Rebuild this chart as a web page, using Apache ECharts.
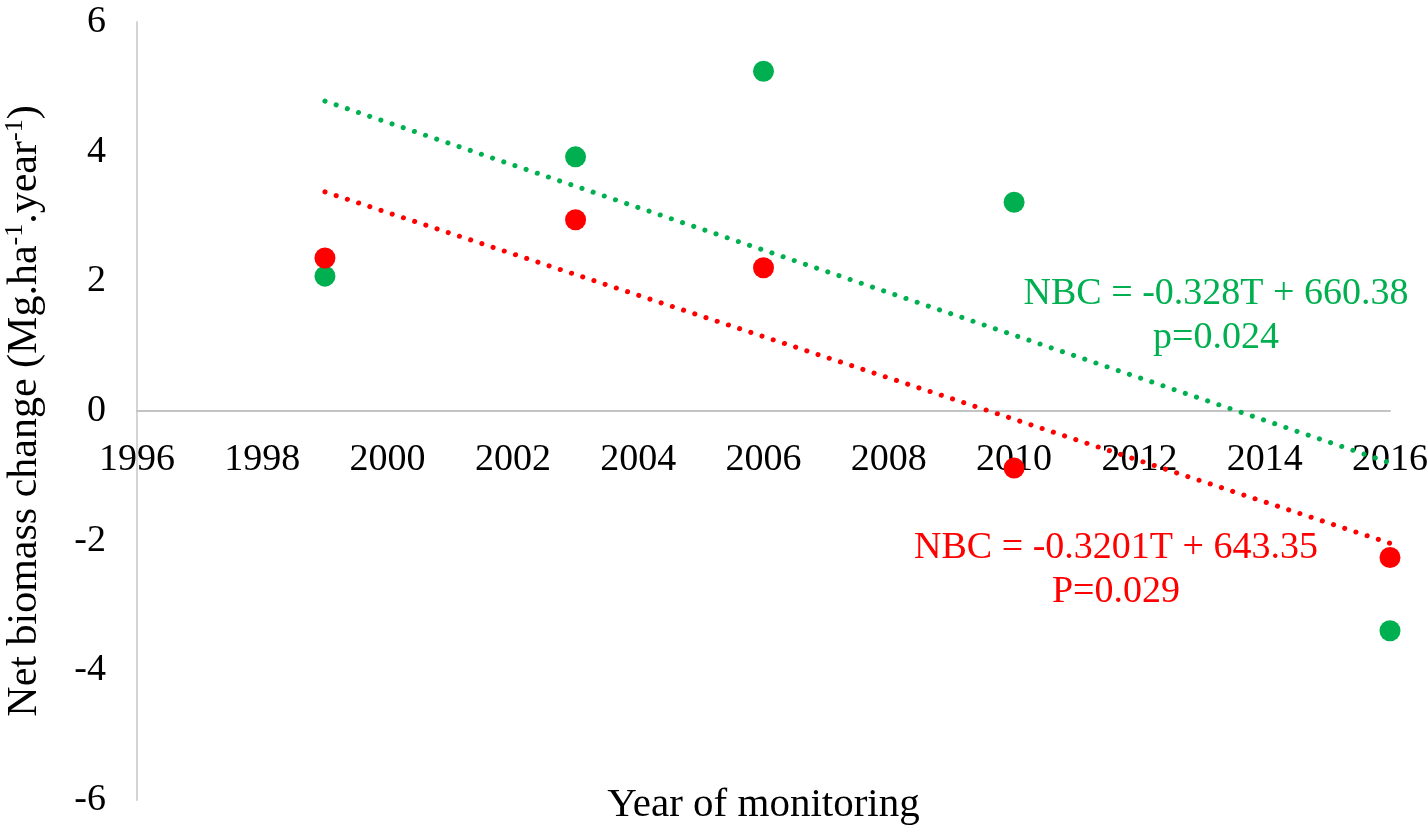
<!DOCTYPE html>
<html>
<head>
<meta charset="utf-8">
<script src="https://cdn.jsdelivr.net/npm/echarts@6/dist/echarts.min.js"></script>
<style>html,body{margin:0;padding:0;background:#fff}#c{width:1427px;height:832px}</style>
</head>
<body>
<div id="c"></div>
<script>
const years = [1999, 2003, 2006, 2010, 2016];
const greenValues = [2.08, 3.92, 5.24, 3.22, -3.39];
const redValues = [2.36, 2.95, 2.21, -0.88, -2.26];
const greenTrend = [[1999, 4.78], [2016, -0.80]];
const redTrend = [[1999, 3.38], [2016, -2.04]];
const greenEquation = ['NBC = -0.328T + 660.38', 'p=0.024'];
const redEquation = ['NBC = -0.3201T + 643.35', 'P=0.029'];
const xTicks = { min: 1996, max: 2016, interval: 2 };
const yTicks = { min: -6, max: 6, interval: 2 };

const GREEN = '#00B050', RED = '#FF0000';
const FONT = '"Liberation Serif", "Times New Roman", serif';

const chart = echarts.init(document.getElementById('c'));
const pairs = v => years.map((y, i) => [y, v[i]]);

const GRID = { left: 137, right: 37, top: 22, bottom: 32 };
const plotH = 832 - GRID.top - GRID.bottom;
const zeroOffset = -plotH * (0 - yTicks.min) / (yTicks.max - yTicks.min);

chart.setOption({
  animation: false,
  backgroundColor: '#fff',
  grid: Object.assign({ containLabel: false, outerBoundsMode: 'none' }, GRID),
  xAxis: {
    type: 'value', min: xTicks.min, max: xTicks.max, interval: xTicks.interval,
    position: 'bottom', offset: zeroOffset,
    axisLine: { onZero: false, lineStyle: { color: '#c4c4c4', width: 2 } },
    axisTick: { show: false }, splitLine: { show: false },
    axisLabel: { color: '#000', fontFamily: FONT, fontSize: 38, margin: 30, showMinLabel: true, showMaxLabel: true, formatter: v => String(v) },
    name: 'Year of monitoring', nameLocation: 'middle', nameGap: 374,
    nameTextStyle: { color: '#000', fontFamily: FONT, fontSize: 41 }
  },
  yAxis: {
    type: 'value', min: yTicks.min, max: yTicks.max, interval: yTicks.interval,
    axisLine: { show: true, onZero: false, lineStyle: { color: '#d4d4d4', width: 2 } },
    axisTick: { show: false }, splitLine: { show: false },
    axisLabel: { color: '#000', fontFamily: FONT, fontSize: 38, margin: 31, formatter: v => String(v) },
    name: '{n|Net biomass change (Mg.ha}{s|-1}{n|.year}{s|-1}{n|)}',
    nameLocation: 'middle', nameRotate: 90, nameGap: 89,
    nameTextStyle: {
      color: '#000', fontFamily: FONT, fontSize: 42,
      rich: {
        n: { color: '#000', fontFamily: FONT, fontSize: 42, lineHeight: 46 },
        s: { color: '#000', fontFamily: FONT, fontSize: 26, lineHeight: 46, verticalAlign: 'top' }
      }
    }
  },
  series: [
    { type: 'line', data: greenTrend, showSymbol: false, silent: true, z: 1,
      lineStyle: { color: GREEN, width: 5, type: [0.1, 11.7], cap: 'round' } },
    { type: 'line', data: redTrend, showSymbol: false, silent: true, z: 1,
      lineStyle: { color: RED, width: 5, type: [0.1, 11.7], cap: 'round' } },
    { type: 'scatter', data: pairs(greenValues), symbolSize: 21, itemStyle: { color: GREEN, opacity: 1 }, z: 3 },
    { type: 'scatter', data: pairs(redValues), symbolSize: 21, itemStyle: { color: RED, opacity: 1 }, z: 4 }
  ],
  graphic: [
    { type: 'text', x: 1216, y: 272, style: { text: greenEquation.join('\n'), fill: GREEN, font: '38px ' + FONT, align: 'center', verticalAlign: 'top', lineHeight: 44 } },
    { type: 'text', x: 1116, y: 526, style: { text: redEquation.join('\n'), fill: RED, font: '38px ' + FONT, align: 'center', verticalAlign: 'top', lineHeight: 44 } }
  ]
});
</script>
</body>
</html>
